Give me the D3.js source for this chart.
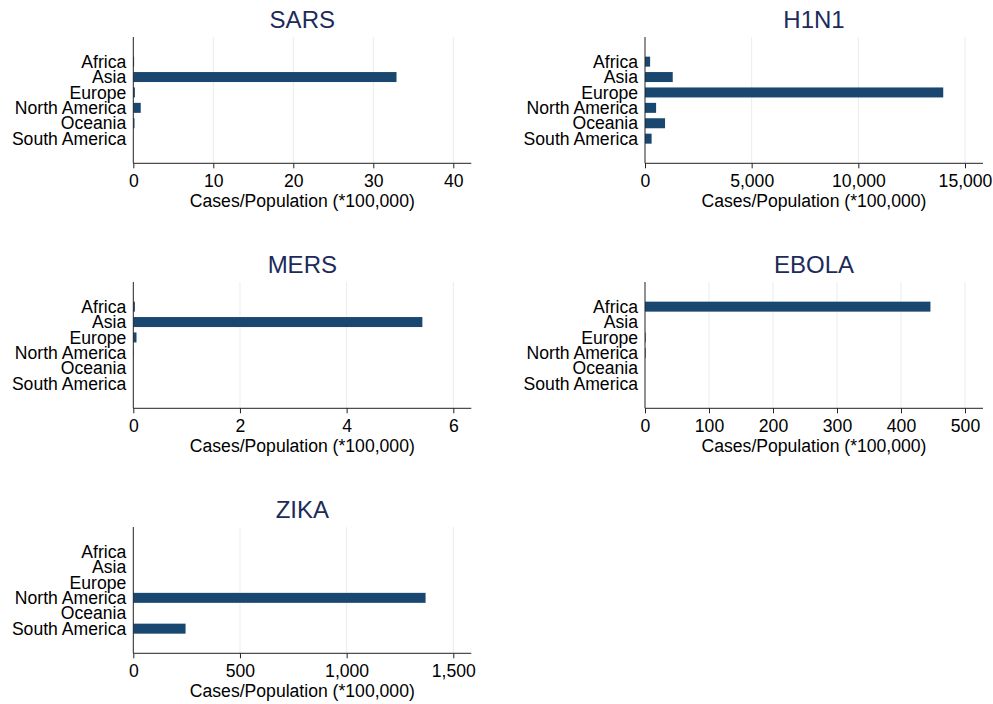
<!DOCTYPE html>
<html>
<head>
<meta charset="utf-8">
<script src="https://cdn.jsdelivr.net/npm/d3@7"></script>
<style>
  body { margin: 0; background: #fff; }
  text { font-family: "Liberation Sans", Arial, Helvetica, sans-serif; }
</style>
</head>
<body>
<div id="chart"></div>
<script>
// data
const regions = ["Africa", "Asia", "Europe", "North America", "Oceania", "South America"];
const diseases = ["SARS", "H1N1", "MERS", "EBOLA", "ZIKA"];

const sars = [0.1, 32.9, 0.2, 0.93, 0.15, 0];
const h1n1 = [240, 1300, 13980, 520, 940, 310];
const mers = [0.03, 5.42, 0.06, 0.005, 0, 0];
const ebola = [446, 0, 1, 1, 0, 0];
const zika = [0, 0, 0, 1370, 0, 245];

const sarsTicks = [0, 10, 20, 30, 40];
const h1n1Ticks = [0, 5000, 10000, 15000];
const mersTicks = [0, 2, 4, 6];
const ebolaTicks = [0, 100, 200, 300, 400, 500];
const zikaTicks = [0, 500, 1000, 1500];

const xTitle = "Cases/Population (*100,000)";

let panels = [
    {name: diseases[0], values: sars, ticks: sarsTicks, col: 0, row: 0},
    {name: diseases[1], values: h1n1, ticks: h1n1Ticks, col: 1, row: 0},
    {name: diseases[2], values: mers, ticks: mersTicks, col: 0, row: 1},
    {name: diseases[3], values: ebola, ticks: ebolaTicks, col: 1, row: 1},
    {name: diseases[4], values: zika, ticks: zikaTicks, col: 0, row: 2}
];

let width = 993,
    height = 704;

let svg = d3.select("#chart").append("svg")
    .attr("width", width)
    .attr("height", height);

let barColor = "#1a476f",
    titleColor = "#1c2b5a",
    gridColor = "#e6eef1",
    axisColor = "#222",
    fontSize = 17.6;

let colX = [133.3, 645],
    rowY = [37, 282, 527],
    plotH = 126.3,
    dataW = 320,
    axisW = 338;

panels.forEach(function (p) {
    let x0 = colX[p.col],
        top = rowY[p.row];

    let g = svg.append("g")
        .attr("transform", "translate(" + x0 + "," + top + ")");

    let x = d3.scaleLinear()
        .domain([0, p.ticks[p.ticks.length - 1]])
        .range([0, dataW]);

    let y = d3.scalePoint()
        .domain(regions)
        .range([0, plotH])
        .padding(1.6);

    // grid lines
    g.selectAll(".grid")
        .data(p.ticks.filter(function (t) { return t > 0; }))
        .enter()
        .append("line")
        .attr("class", "grid")
        .attr("x1", function (d) { return x(d); })
        .attr("x2", function (d) { return x(d); })
        .attr("y1", 0)
        .attr("y2", plotH)
        .attr("stroke", gridColor)
        .attr("stroke-width", 1);

    // bars
    g.selectAll(".bar")
        .data(p.values)
        .enter()
        .append("rect")
        .attr("class", "bar")
        .attr("x", x(0))
        .attr("y", function (d, i) { return y(regions[i]) - 5; })
        .attr("width", function (d) { return x(d) - x(0); })
        .attr("height", 10)
        .attr("fill", barColor);

    // x axis
    let xAxis = d3.axisBottom(x)
        .tickValues(p.ticks)
        .tickSize(5)
        .tickPadding(6)
        .tickFormat(d3.format(","));

    let ax = g.append("g")
        .attr("transform", "translate(0," + plotH + ")")
        .call(xAxis);
    ax.select(".domain").remove();
    ax.append("line")
        .attr("x1", 0)
        .attr("x2", axisW)
        .attr("stroke", axisColor);
    ax.selectAll(".tick line").attr("stroke", axisColor);
    ax.selectAll(".tick text")
        .attr("fill", "#000")
        .attr("font-size", fontSize)
        .attr("font-family", "Liberation Sans, Arial, sans-serif");

    // y axis
    let yAxis = d3.axisLeft(y)
        .tickSize(0)
        .tickPadding(7);
    let ay = g.append("g").call(yAxis);
    ay.select(".domain").remove();
    ay.append("line")
        .attr("y1", 0)
        .attr("y2", plotH)
        .attr("stroke", axisColor);
    ay.selectAll(".tick text")
        .attr("fill", "#000")
        .attr("font-size", fontSize)
        .attr("font-family", "Liberation Sans, Arial, sans-serif");

    // titles
    g.append("text")
        .attr("x", axisW / 2)
        .attr("y", -8.7)
        .attr("text-anchor", "middle")
        .attr("font-size", 24)
        .attr("fill", titleColor)
        .text(p.name);

    g.append("text")
        .attr("x", axisW / 2)
        .attr("y", plotH + 44)
        .attr("text-anchor", "middle")
        .attr("font-size", fontSize)
        .attr("fill", "#000")
        .text(xTitle);
});
</script>
</body>
</html>
